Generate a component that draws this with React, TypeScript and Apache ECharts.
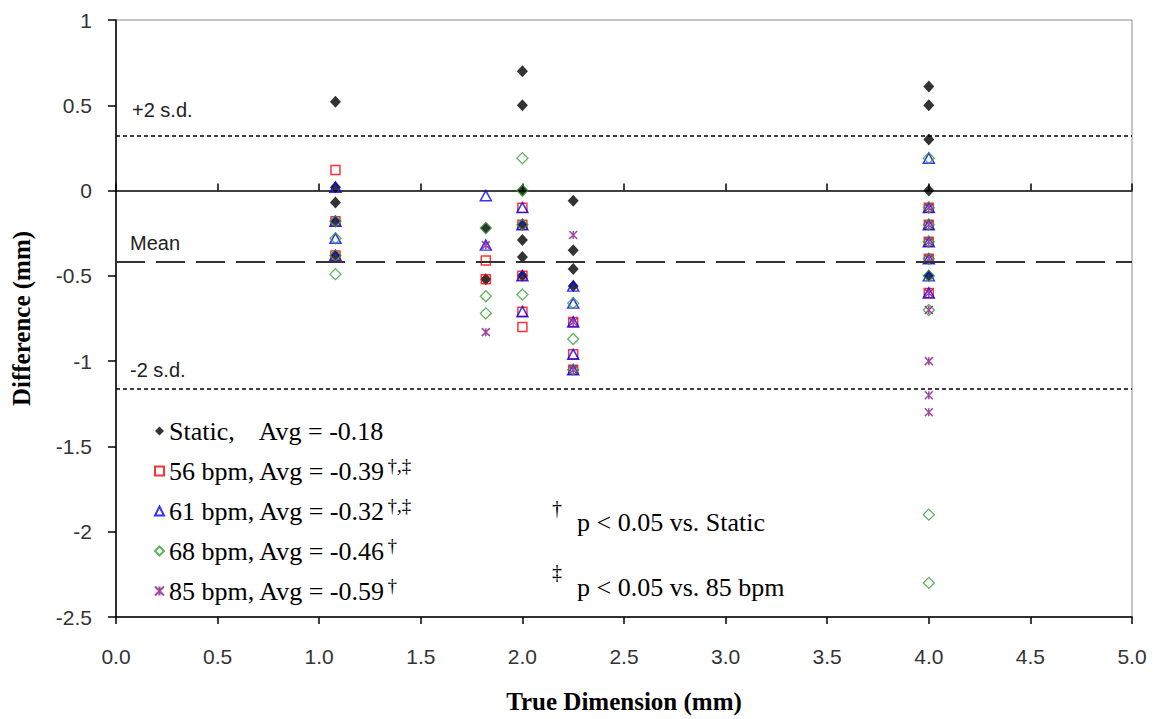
import React, { useEffect, useRef } from 'react';
import * as echarts from 'echarts';

// ---- data (x = true dimension in mm, y = difference in mm) ----
const staticPts: [number, number][] = [
  [1.08, 0.52], [1.08, 0.02], [1.08, -0.07], [1.08, -0.18], [1.08, -0.38],
  [1.82, -0.22], [1.82, -0.52],
  [2.0, 0.7], [2.0, 0.5], [2.0, 0.0], [2.0, -0.2], [2.0, -0.29], [2.0, -0.39], [2.0, -0.5],
  [2.25, -0.06], [2.25, -0.35], [2.25, -0.46], [2.25, -0.56],
  [4.0, 0.61], [4.0, 0.5], [4.0, 0.3], [4.0, 0.0], [4.0, -0.5],
];
const bpm56Pts: [number, number][] = [
  [1.08, 0.12], [1.08, -0.18], [1.08, -0.38],
  [1.82, -0.41], [1.82, -0.52],
  [2.0, -0.1], [2.0, -0.2], [2.0, -0.5], [2.0, -0.71], [2.0, -0.8],
  [2.25, -0.77], [2.25, -0.96], [2.25, -1.05],
  [4.0, -0.1], [4.0, -0.2], [4.0, -0.3], [4.0, -0.4], [4.0, -0.6],
];
const bpm61Pts: [number, number][] = [
  [1.08, 0.02], [1.08, -0.18], [1.08, -0.28], [1.08, -0.38],
  [1.82, -0.03], [1.82, -0.32],
  [2.0, -0.1], [2.0, -0.2], [2.0, -0.5], [2.0, -0.71],
  [2.25, -0.56], [2.25, -0.66], [2.25, -0.77], [2.25, -0.96], [2.25, -1.05],
  [4.0, 0.19], [4.0, -0.1], [4.0, -0.2], [4.0, -0.3], [4.0, -0.4], [4.0, -0.5], [4.0, -0.6],
];
const bpm68Pts: [number, number][] = [
  [1.08, -0.18], [1.08, -0.28], [1.08, -0.38], [1.08, -0.49],
  [1.82, -0.22], [1.82, -0.62], [1.82, -0.72],
  [2.0, 0.19], [2.0, 0.0], [2.0, -0.2], [2.0, -0.61],
  [2.25, -0.66], [2.25, -0.87], [2.25, -1.05],
  [4.0, 0.19], [4.0, -0.1], [4.0, -0.2], [4.0, -0.3], [4.0, -0.4], [4.0, -0.5], [4.0, -0.7], [4.0, -1.9], [4.0, -2.3],
];
const bpm85Pts: [number, number][] = [
  [1.82, -0.32], [1.82, -0.83],
  [2.25, -0.26], [2.25, -0.77], [2.25, -1.05],
  [4.0, -0.1], [4.0, -0.2], [4.0, -0.3], [4.0, -0.4], [4.0, -0.6], [4.0, -0.7], [4.0, -1.0], [4.0, -1.2], [4.0, -1.3],
];

const seriesNames = ['Static', '56 bpm', '61 bpm', '68 bpm', '85 bpm'];
const seriesAvgs = ['-0.18', '-0.39', '-0.32', '-0.46', '-0.59'];
const seriesMarks = ['', '†,‡', '†,‡', '†', '†'];

const meanDiff = -0.42;
const plus2sd = 0.32;
const minus2sd = -1.16;

const X_MIN = 0, X_MAX = 5, X_STEP = 0.5;
const Y_MIN = -2.5, Y_MAX = 1, Y_STEP = 0.5;

const SERIF = '"Liberation Serif", "Times New Roman", serif';
const SANS = '"Liberation Sans", Arial, sans-serif';
const ASTERISK = 'path://M0,0 L10,10 M10,0 L0,10 M5,0 L5,10';

export default function App() {
  const ref = useRef<HTMLDivElement>(null);

  useEffect(() => {
    if (!ref.current) return;
    const chart = echarts.init(ref.current, undefined, { renderer: 'svg' });

    const grid = { left: 116, top: 20, width: 1016, height: 600, show: true, borderColor: '#8a8a8a', borderWidth: 1, backgroundColor: '#fff' };

    const baseX = { type: 'value', min: X_MIN, max: X_MAX, interval: X_STEP, splitLine: { show: false } };

    const legendText: Record<string, string> = {};
    seriesNames.forEach((n, i) => {
      if (i === 0) legendText[n] = `{t|${n},}{g|}{t|Avg = ${seriesAvgs[i]}}`;
      else legendText[n] = `{t|${n}, Avg = ${seriesAvgs[i]}}` + (seriesMarks[i] ? `{s|${seriesMarks[i]}}` : '');
    });

    const option: any = {
      animation: false,
      backgroundColor: '#fff',
      grid,
      xAxis: [
        {
          ...baseX,
          position: 'bottom',
          axisLine: { show: false, onZero: false },
          axisTick: { show: false },
          axisLabel: {
            margin: 29, fontFamily: SANS, fontSize: 21, color: '#333',
            formatter: (v: number) => v.toFixed(1),
          },
          name: 'True Dimension (mm)',
          nameLocation: 'middle',
          nameGap: 72,
          nameTextStyle: { fontFamily: SERIF, fontWeight: 'bold', fontSize: 25, color: '#000' },
        },
        {
          ...baseX,
          position: 'bottom',
          axisLine: { show: true, onZero: true, lineStyle: { color: '#000', width: 1.5 } },
          axisTick: { show: true, inside: true, length: 7, lineStyle: { color: '#000', width: 1.5 } },
          axisLabel: { show: false },
        },
        {
          ...baseX,
          position: 'bottom',
          axisLine: { show: true, onZero: true, lineStyle: { color: '#000', width: 1.5 } },
          axisTick: { show: true, inside: false, length: 7, lineStyle: { color: '#000', width: 1.5 } },
          axisLabel: { show: false },
        },
      ],
      yAxis: {
        type: 'value', min: Y_MIN, max: Y_MAX, interval: Y_STEP,
        splitLine: { show: false },
        axisLine: { show: true, onZero: false, lineStyle: { color: '#000', width: 1.5 } },
        axisTick: { show: true, length: 8, lineStyle: { color: '#000', width: 1.5 } },
        axisLabel: { margin: 24, fontFamily: SANS, fontSize: 21, color: '#333', formatter: (v: number) => String(v) },
        name: 'Difference (mm)',
        nameLocation: 'middle',
        nameGap: 82,
        nameRotate: 90,
        nameTextStyle: { fontFamily: SERIF, fontWeight: 'bold', fontSize: 25, color: '#000' },
      },
      legend: {
        orient: 'vertical',
        left: 149,
        top: 413,
        itemWidth: 9,
        itemHeight: 9,
        itemGap: 12,
        data: seriesNames,
        formatter: (name: string) => legendText[name],
        textStyle: {
          color: '#000',
          rich: {
            t: { fontFamily: SERIF, fontSize: 26, lineHeight: 30, color: '#000' },
            g: { width: 24 },
            s: { fontFamily: SERIF, fontSize: 19, lineHeight: 30, verticalAlign: 'top', color: '#000', padding: [0, 0, 0, 2] },
          },
        },
      },
      graphic: [
        { type: 'text', left: 552, top: 498, style: { text: '†', fontFamily: SERIF, fontSize: 20, fill: '#000' } },
        { type: 'text', left: 577, top: 509, style: { text: 'p < 0.05 vs. Static', fontFamily: SERIF, fontSize: 26, fill: '#000' } },
        { type: 'text', left: 552, top: 562, style: { text: '‡', fontFamily: SERIF, fontSize: 20, fill: '#000' } },
        { type: 'text', left: 577, top: 574, style: { text: 'p < 0.05 vs. 85 bpm', fontFamily: SERIF, fontSize: 26, fill: '#000' } },
      ],
      series: [
        {
          name: 'Static', type: 'scatter', data: staticPts, symbol: 'diamond', symbolSize: [11, 12],
          itemStyle: { color: '#000' },
          markLine: {
            silent: true,
            symbol: ['none', 'none'],
            data: [
              {
                yAxis: plus2sd,
                lineStyle: { type: [4, 3], color: '#000', width: 1.5 },
                label: { show: true, formatter: '+2 s.d.', position: 'insideStartTop', distance: [16, 16], fontFamily: SANS, fontSize: 20, color: '#222' },
              },
              {
                yAxis: meanDiff,
                lineStyle: { type: [29, 11], color: '#333', width: 2 },
                label: { show: true, formatter: 'Mean', position: 'insideStartTop', distance: [14, 9], fontFamily: SANS, fontSize: 20, color: '#222' },
              },
              {
                yAxis: minus2sd,
                lineStyle: { type: [4, 3], color: '#000', width: 1.5 },
                label: { show: true, formatter: '-2 s.d.', position: 'insideStartTop', distance: [14, 8], fontFamily: SANS, fontSize: 20, color: '#222' },
              },
            ],
          },
        },
        {
          name: '56 bpm', type: 'scatter', data: bpm56Pts, symbol: 'rect', symbolSize: 9,
          itemStyle: { color: 'rgba(255,255,255,0)', borderColor: '#ff0000', borderWidth: 1.5 },
        },
        {
          name: '61 bpm', type: 'scatter', data: bpm61Pts, symbol: 'triangle', symbolSize: [11, 10],
          itemStyle: { color: 'rgba(255,255,255,0)', borderColor: '#0000ff', borderWidth: 1.5 },
        },
        {
          name: '68 bpm', type: 'scatter', data: bpm68Pts, symbol: 'diamond', symbolSize: [11, 11],
          itemStyle: { color: 'rgba(255,255,255,0)', borderColor: '#33a033', borderWidth: 1.3 },
        },
        {
          name: '85 bpm', type: 'scatter', data: bpm85Pts, symbol: ASTERISK, symbolSize: 8,
          itemStyle: { color: 'rgba(255,255,255,0)', borderColor: '#8b1a8b', borderWidth: 1.5 },
        },
      ],
    };

    chart.setOption(option);
    return () => chart.dispose();
  }, []);

  return <div ref={ref} style={{ position: 'fixed', left: 0, top: 0, width: 1159, height: 719 }} />;
}
